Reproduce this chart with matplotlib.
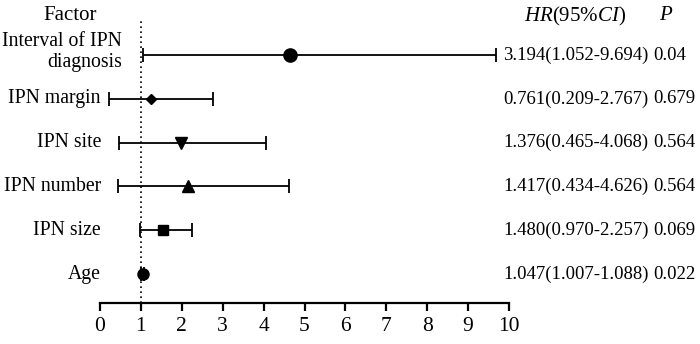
import matplotlib.pyplot as plt
import matplotlib.transforms as mtransforms

plt.rcParams['font.family'] = ['Liberation Serif', 'DejaVu Serif']
plt.rcParams['mathtext.fontset'] = 'custom'
plt.rcParams['mathtext.rm'] = 'Liberation Serif'
plt.rcParams['mathtext.it'] = 'Liberation Serif:italic'

factors = ["Interval of IPN\ndiagnosis", "IPN margin", "IPN site", "IPN number", "IPN size", "Age"]
# marker positions as drawn in the figure
points = [4.65, 1.25, 1.97, 2.15, 1.55, 1.05]
ci_low = [1.052, 0.209, 0.465, 0.434, 0.970, 1.007]
ci_high = [9.694, 2.767, 4.068, 4.626, 2.257, 1.088]
hr_text = ["3.194(1.052-9.694)", "0.761(0.209-2.767)", "1.376(0.465-4.068)",
           "1.417(0.434-4.626)", "1.480(0.970-2.257)", "1.047(1.007-1.088)"]
p_text = ["0.04", "0.679", "0.564", "0.564", "0.069", "0.022"]
markers = ["o", "D", "v", "^", "s", "o"]
msizes = [9.5, 5, 8, 8, 7.5, 8]

fig = plt.figure(figsize=(7, 3.44), dpi=100)
ax = fig.add_axes([100 / 700, 1 - 303 / 344, 409 / 700, 283 / 344])

ys = [6, 5, 4, 3, 2, 1]
for y, p, lo, hi, m, ms in zip(ys, points, ci_low, ci_high, markers, msizes):
    ax.errorbar(p, y, xerr=[[p - lo], [hi - p]], fmt=m, color="black",
                ms=ms, capsize=5, elinewidth=1.3, capthick=1.3)

ax.axvline(1, color="black", linestyle=(0, (1, 2)), linewidth=1.2)

ax.set_xlim(0, 10)
ax.set_ylim(0.34, 6.8)
ax.set_xticks(range(0, 11))
ax.set_yticks([])
for s in ["top", "right", "left"]:
    ax.spines[s].set_visible(False)
ax.spines["bottom"].set_linewidth(1.6)
ax.tick_params(axis="x", direction="out", length=6, width=1.6, labelsize=15.5, pad=4)

trans = mtransforms.blended_transform_factory(fig.transFigure, ax.transData)
for y, lab in zip(ys, factors):
    if "\n" in lab:
        ax.text(122 / 700, y + 0.07, lab, transform=trans, ha="right", va="center",
                fontsize=14.2, linespacing=1.15)
    else:
        ax.text(101 / 700, y, lab, transform=trans, ha="right", va="center", fontsize=14.2)
for y, hr, p in zip(ys, hr_text, p_text):
    ax.text(503 / 700, y, hr, transform=trans, ha="left", va="center", fontsize=13.5)
    ax.text(653 / 700, y, p, transform=trans, ha="left", va="center", fontsize=13.5)

fig.text(70 / 700, 1 - 16 / 344, "Factor", ha="center", va="center", fontsize=15)
fig.text(524 / 700, 1 - 16 / 344, r"$\mathit{HR}$(95%$\mathit{CI}$)", ha="left", va="center", fontsize=15)
fig.text(659 / 700, 1 - 16 / 344, r"$\mathit{P}$", ha="left", va="center", fontsize=15)

fig.savefig("out.png", dpi=100)
